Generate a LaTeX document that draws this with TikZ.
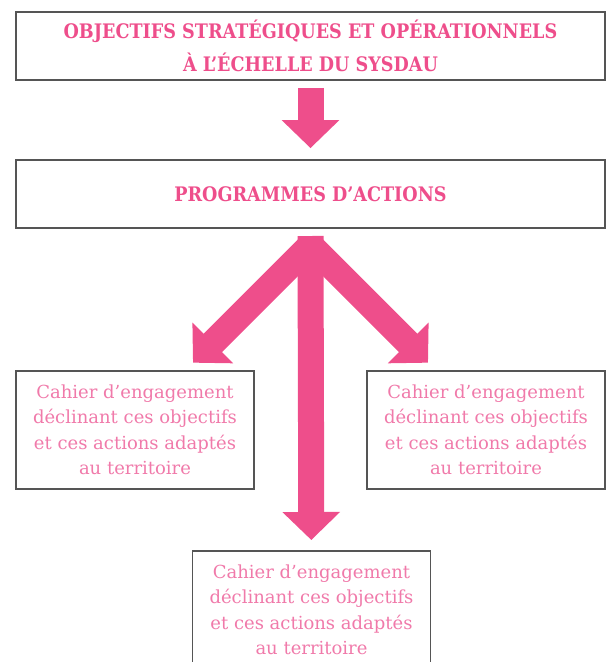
\documentclass[tikz,border=0pt]{standalone}
\usepackage{fontspec}
\setmainfont{DejaVu Serif}
\newfontfamily\titrefont[FakeStretch=0.88]{DejaVu Serif}
\usetikzlibrary{arrows.meta, positioning}
\definecolor{rosefonce}{HTML}{EE4E8B}
\definecolor{rosetexte}{HTML}{F07AAA}
\definecolor{grisbord}{HTML}{555555}

\begin{document}
\begin{tikzpicture}[x=1pt, y=-1pt]
\tikzstyle{titlebox} = [rectangle, minimum width=589pt, minimum height=68pt, align=center, draw=grisbord, line width=1.8pt, text=rosefonce, font=\titrefont\bfseries\fontsize{20}{33}\selectfont]
\tikzstyle{cahierbox} = [rectangle, minimum width=238pt, minimum height=118pt, align=center, draw=grisbord, line width=1.8pt, text=rosetexte, font=\fontsize{18}{25.5}\selectfont]
\tikzstyle{bigarrow} = [draw=rosefonce, line width=26pt, -{Triangle[width=56pt, length=28pt]}]

\path[use as bounding box, clip] (0,0) rectangle (609,662);

\node (objectifs) [titlebox] at (310.5,46) {OBJECTIFS STRATÉGIQUES ET OPÉRATIONNELS\\À L’ÉCHELLE DU SYSDAU};
\node (programmes) [titlebox] at (310.5,194) {PROGRAMMES D’ACTIONS};
\node (lcahier) [cahierbox] at (135,430) {Cahier d’engagement\\déclinant ces objectifs\\et ces actions adaptés\\au territoire};
\node (rcahier) [cahierbox] at (486,430) {Cahier d’engagement\\déclinant ces objectifs\\et ces actions adaptés\\au territoire};
\node (bcahier) [cahierbox, anchor=north] at (311.5,550) {Cahier d’engagement\\déclinant ces objectifs\\et ces actions adaptés\\au territoire};

\coordinate (split) at (310.5,236);
\coordinate (fork) at (310.5,245.2);
\coordinate (ltip) at (193,362.7);
\coordinate (rtip) at (428,362.7);

\draw[bigarrow, shorten <=7pt, shorten >=11pt] (objectifs) -- (programmes);
\draw[bigarrow] (fork) -- (ltip);
\draw[bigarrow] (fork) -- (rtip);
\draw[bigarrow, shorten >=10pt] (split) -- (bcahier);

\end{tikzpicture}
\end{document}
